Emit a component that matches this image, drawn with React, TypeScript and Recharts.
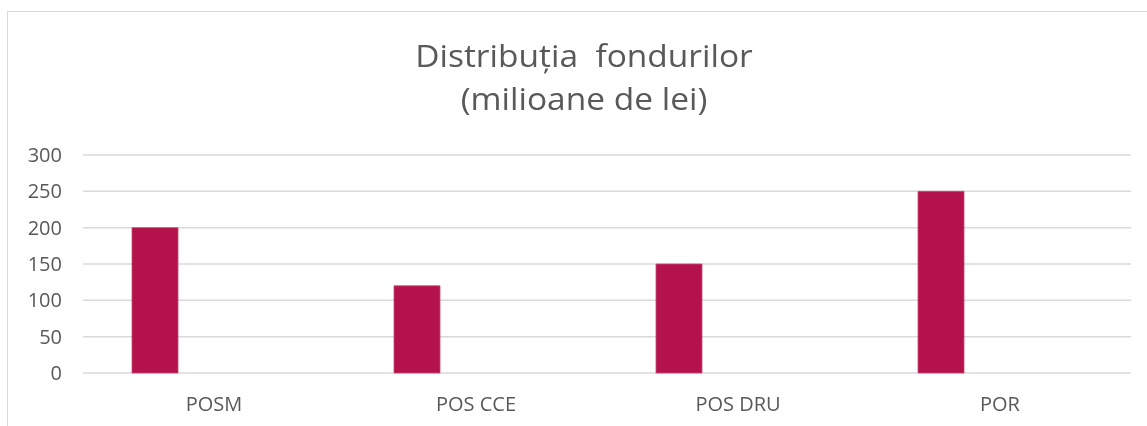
import { Bar, BarChart, CartesianGrid, XAxis, YAxis } from "recharts";

const categorii = ["POSM", "POS CCE", "POS DRU", "POR"];
const fonduri = [200, 120, 150, 250];
// a doua serie din foaia originala e goala, dar ocupa loc in grup
const serieGoala = [null, null, null, null];
const valoriAxa = [0, 50, 100, 150, 200, 250, 300];

const date = categorii.map((nume, i) => ({
  nume,
  fonduri: fonduri[i],
  gol: serieGoala[i],
}));

const gri = "#595959";
const font = "'Open Sans', sans-serif";

const stilTitlu = {
  position: "absolute" as const,
  left: 0,
  width: 1168,
  textAlign: "center" as const,
  fontSize: 31,
  lineHeight: "31px",
  color: gri,
  whiteSpace: "pre" as const,
  transform: "scaleX(1.08)",
  transformOrigin: "584px 0",
};

export default function App() {
  return (
    <div
      style={{
        position: "fixed",
        left: 0,
        top: 0,
        width: 1147,
        height: 426,
        background: "#fff",
        fontFamily: font,
      }}
    >
      <div
        style={{
          position: "absolute",
          left: 7,
          top: 11,
          right: 0,
          bottom: 0,
          borderTop: "1.5px solid #d9d9d9",
          borderLeft: "1.5px solid #d9d9d9",
        }}
      />
      <div style={{ ...stilTitlu, top: 40 }}>{"Distribuția  fondurilor"}</div>
      <div style={{ ...stilTitlu, top: 83 }}>(milioane de lei)</div>
      <div style={{ position: "absolute", left: 0, top: 0 }}>
        <BarChart
          width={1147}
          height={426}
          data={date}
          margin={{ top: 155, right: 16, bottom: 23, left: 8 }}
          barGap={0}
        >
          <CartesianGrid vertical={false} stroke="#d9d9d9" strokeWidth={1.5} />
          <XAxis
            dataKey="nume"
            axisLine={false}
            tickLine={false}
            tickSize={0}
            tickMargin={24}
            height={30}
            tick={{ fill: gri, fontSize: 20, fontFamily: font }}
          />
          <YAxis
            domain={[0, 300]}
            ticks={valoriAxa}
            axisLine={false}
            tickLine={false}
            tickSize={0}
            tickMargin={21}
            width={75}
            tick={{ fill: gri, fontSize: 20, fontFamily: font }}
          />
          <Bar
            dataKey="fonduri"
            fill="#b3124a"
            stroke="#c84a75"
            strokeWidth={0.8}
            barSize={46}
            isAnimationActive={false}
          />
          <Bar dataKey="gol" fill="#b3124a" barSize={118} isAnimationActive={false} />
        </BarChart>
      </div>
    </div>
  );
}
